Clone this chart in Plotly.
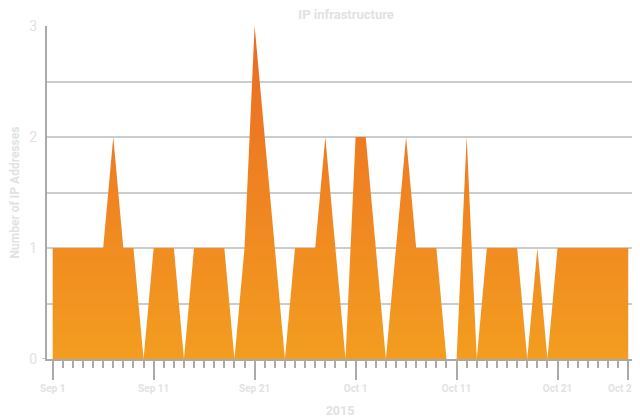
import plotly.graph_objects as go
import pandas as pd

dates = pd.date_range("2015-09-01", "2015-10-28", freq="D").strftime("%Y-%m-%d").tolist()
ip_counts = [1, 1, 1, 1, 1, 1, 2, 1, 1, 0,
             1, 1, 1, 0, 1, 1, 1, 1, 0, 1,
             3, 2, 1, 0, 1, 1, 1, 2, 1, 0,
             2, 2, 1, 0, 1, 2, 1, 1, 1, 0,
             0, 2, 0, 1, 1, 1, 1, 0, 1, 0,
             1, 1, 1, 1, 1, 1, 1, 1]
tick_dates = ["2015-09-01", "2015-09-11", "2015-09-21", "2015-10-01",
              "2015-10-11", "2015-10-21", "2015-10-28"]
tick_labels = ["Sep 1", "Sep 11", "Sep 21", "Oct 1", "Oct 11", "Oct 21", "Oct 28"]

TXT = "#e2e2e2"
FONT = "Roboto"

fig = go.Figure()
fig.add_trace(go.Scatter(
    x=dates, y=ip_counts, mode="lines", fill="tozeroy",
    line=dict(width=0, color="#ee8024"),
    fillgradient=dict(type="vertical",
                      colorscale=[[0, "#f39d1f"], [1, "#eb6a24"]]),
    hoverinfo="x+y", showlegend=False,
))

# last label is drawn as an annotation so it stays inside the page edge
ticktext = ["<b>%s</b>" % t for t in tick_labels[:-1]] + [""]

# page body has an 8px margin, so the figure is sized to fit inside it
fig.update_layout(
    width=632, height=410,
    margin=dict(l=39, r=7, t=18, b=59),
    paper_bgcolor="white", plot_bgcolor="white",
    font=dict(family=FONT, color=TXT),
    title=dict(text="<b>IP infrastructure</b>", x=0.535, xanchor="center",
               y=1, yanchor="top", pad=dict(t=2),
               font=dict(size=13, color=TXT, family=FONT)),
    xaxis=dict(
        type="date", automargin=False,
        range=["2015-08-31 10:30", "2015-10-28 11:20"],
        tickvals=tick_dates, ticktext=ticktext,
        ticks="outside", ticklen=19, tickwidth=1.5, tickcolor="#aaaaaa",
        tickfont=dict(size=10, color=TXT, family=FONT),
        showgrid=False, zeroline=False,
        showline=True, linecolor="#aaaaaa", linewidth=1.5,
        minor=dict(dtick=86400000, tick0="2015-09-01", ticks="outside",
                   ticklen=7, tickwidth=1.5, tickcolor="#aaaaaa", showgrid=False),
        title=dict(text="<b>2015</b>", font=dict(size=12.5, color=TXT, family=FONT),
                   standoff=22),
    ),
    yaxis=dict(
        range=[0, 3], tickvals=[0, 1, 2, 3], automargin=False,
        ticks="", tickfont=dict(size=14, color=TXT, family=FONT),
        ticklabelstandoff=5,
        showgrid=True, gridcolor="#cccccc", gridwidth=1.5,
        zeroline=False,
        showline=True, linecolor="#aaaaaa", linewidth=2, mirror=True,
        minor=dict(dtick=0.5, showgrid=True, gridcolor="#cccccc", gridwidth=1.5),
        title=dict(text="<b>Number of IP Addresses</b>",
                   font=dict(size=12, color=TXT, family=FONT), standoff=14),
    ),
    shapes=[dict(type="line", xref="paper", yref="y", x0=-0.008, x1=0, y0=0, y1=0,
                 line=dict(color="#aaaaaa", width=1.5))],
    annotations=[dict(text="<b>%s</b>" % tick_labels[-1], xref="paper", yref="paper",
                      x=1.0115, y=0, xanchor="right", yanchor="middle", yshift=-29,
                      showarrow=False, font=dict(size=10, color=TXT, family=FONT))],
)

fig.write_html("out.html")
